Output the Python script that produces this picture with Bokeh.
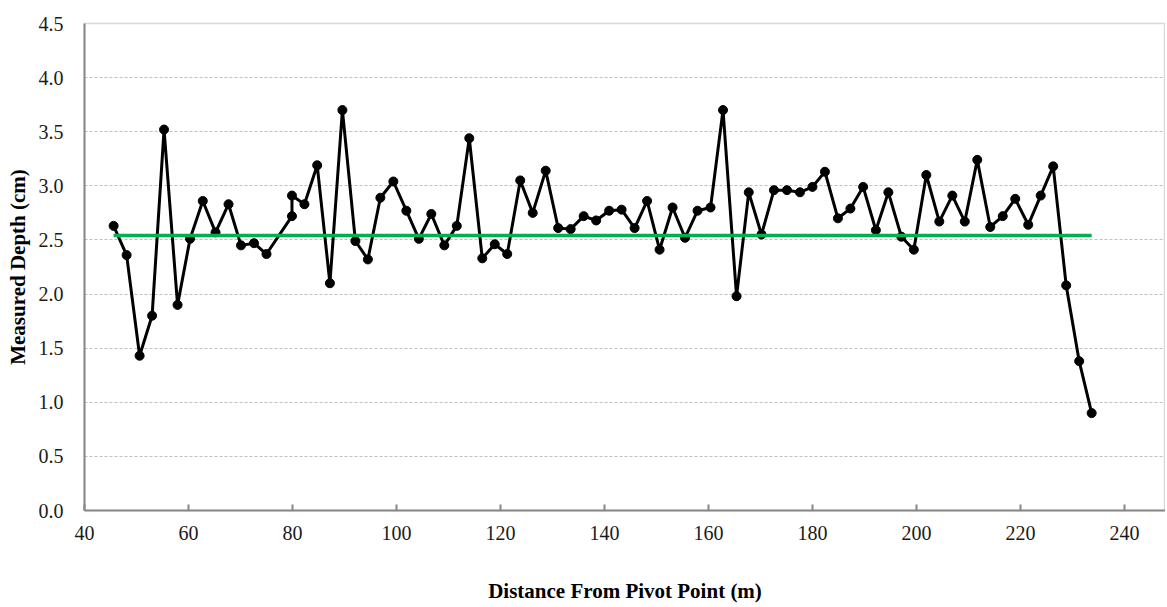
from bokeh.plotting import figure
from bokeh.models import FixedTicker, NumeralTickFormatter, ColumnDataSource
from bokeh.embed import file_html
from bokeh.resources import INLINE

distance = [45.6, 48.1, 50.6, 53.0, 55.3, 57.9, 60.3, 62.75, 65.2, 67.7, 70.1, 72.6, 75.0,
            79.9, 79.9, 82.3, 84.75, 87.2, 89.6, 92.1, 94.5, 96.9, 99.4, 101.9, 104.3, 106.7,
            109.2, 111.6, 114.0, 116.5, 118.9, 121.3, 123.8, 126.2, 128.7, 131.1, 133.5, 136.0,
            138.4, 140.9, 143.3, 145.8, 148.2, 150.6, 153.1, 155.5, 157.9, 160.4, 162.8, 165.4,
            167.75, 170.2, 172.6, 175.1, 177.6, 180.0, 182.4, 184.9, 187.3, 189.75, 192.2, 194.6,
            197.1, 199.5, 201.9, 204.4, 206.9, 209.3, 211.7, 214.2, 216.6, 219.0, 221.5, 223.9,
            226.3, 228.8, 231.3, 233.7]
depth = [2.63, 2.36, 1.43, 1.80, 3.52, 1.90, 2.51, 2.86, 2.57, 2.83, 2.45, 2.47, 2.37,
         2.72, 2.91, 2.83, 3.19, 2.10, 3.70, 2.49, 2.32, 2.89, 3.04, 2.77, 2.51, 2.74,
         2.45, 2.63, 3.44, 2.33, 2.46, 2.37, 3.05, 2.75, 3.14, 2.61, 2.60, 2.72,
         2.68, 2.77, 2.78, 2.61, 2.86, 2.41, 2.80, 2.52, 2.77, 2.80, 3.70, 1.98,
         2.94, 2.55, 2.96, 2.96, 2.94, 2.99, 3.13, 2.70, 2.79, 2.99, 2.59, 2.94,
         2.53, 2.41, 3.10, 2.67, 2.91, 2.67, 3.24, 2.62, 2.72, 2.88, 2.64, 2.91,
         3.18, 2.08, 1.38, 0.90]
mean_depth = 2.54
y_ticks = [0.0, 0.5, 1.0, 1.5, 2.0, 2.5, 3.0, 3.5, 4.0, 4.5]
x_ticks = [40, 60, 80, 100, 120, 140, 160, 180, 200, 220, 240]

FONT = "Liberation Serif"

p = figure(width=1165, height=605, output_backend="svg", toolbar_location=None,
           x_range=(40, 247.9), y_range=(0, 4.5),
           min_border_left=84, min_border_right=0, min_border_top=23, min_border_bottom=93)

src = ColumnDataSource(dict(x=distance, y=depth))
p.line("x", "y", source=src, line_color="black", line_width=3)
p.scatter("x", "y", source=src, size=9, fill_color="black", line_color="black")
p.line([distance[0], distance[-1]], [mean_depth, mean_depth], line_color="#00B050", line_width=3.5)

p.xgrid.grid_line_color = None
p.ygrid.ticker = FixedTicker(ticks=y_ticks)
p.ygrid.grid_line_color = "#BFBFBF"
p.ygrid.grid_line_dash = "3 2"
p.ygrid.grid_line_width = 1

p.outline_line_color = "#D9D9D9"
p.outline_line_width = 1.5

p.xaxis.ticker = FixedTicker(ticks=x_ticks)
p.yaxis.ticker = FixedTicker(ticks=y_ticks)
p.yaxis.formatter = NumeralTickFormatter(format="0.0")

for ax in (p.xaxis, p.yaxis):
    ax.axis_line_color = "#868686"
    ax.axis_line_width = 2
    ax.major_label_text_font = FONT
    ax.major_label_text_font_size = "20px"
    ax.major_label_text_color = "#1a1a1a"
    ax.axis_label_text_font = FONT
    ax.axis_label_text_font_size = "21px"
    ax.axis_label_text_font_style = "bold"
    ax.axis_label_text_color = "black"
    ax.minor_tick_line_color = None

p.xaxis.major_tick_in = 6
p.xaxis.major_tick_out = 0
p.xaxis.major_tick_line_color = "#868686"
p.xaxis.major_tick_line_width = 2
p.xaxis.major_label_standoff = 15
p.xaxis.axis_label = "Distance From Pivot Point (m)"
p.xaxis.axis_label_standoff = 36

p.yaxis.major_tick_line_color = None
p.yaxis.major_tick_in = 0
p.yaxis.major_tick_out = 0
p.yaxis.major_label_standoff = 21
p.yaxis.axis_label = "Measured Depth (cm)"
p.yaxis.axis_label_standoff = 6

open("out.html", "w").write(file_html(p, INLINE))
